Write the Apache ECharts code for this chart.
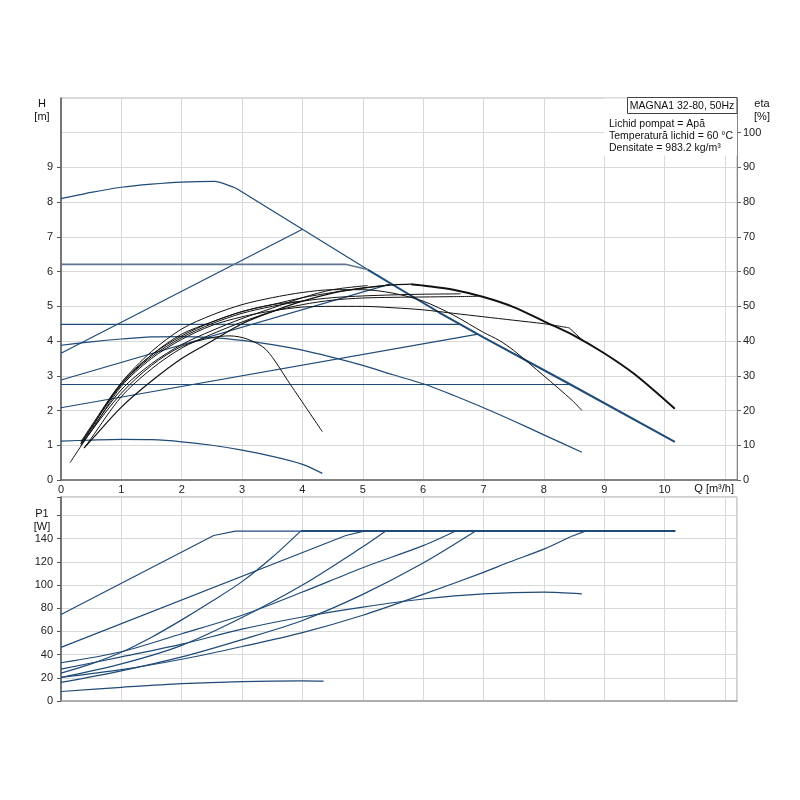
<!DOCTYPE html>
<html>
<head>
<meta charset="utf-8">
<script src="https://cdn.jsdelivr.net/npm/echarts@6/dist/echarts.min.js"></script>
<style>
    html, body { margin: 0; background: #fff; }
    #chart { width: 800px; height: 800px; }
</style>
</head>
<body>
<div id="chart"></div>
<script>
// ---- head curves, Q [m3/h] / H [m] ----
var qMax = [0, 0.5, 1, 1.5, 2, 2.55, 2.9, 4, 5.08, 6.26, 7, 8.44, 10.17];
var hMax = [8.1, 8.28, 8.43, 8.52, 8.58, 8.6, 8.4, 7.22, 6.06, 4.83, 4.11, 2.75, 1.1];
var qPp3 = [0, 4], hPp3 = [3.65, 7.22];
var qCp3 = [0, 4.71, 5.08], hCp3 = [6.21, 6.21, 6.06];
var qCp2 = [0, 6.62], hCp2 = [4.48, 4.48];
var qPp2 = [0, 5.45], hPp2 = [2.88, 5.64];
var qPp1 = [0, 6.91], hPp1 = [2.08, 4.2];
var qCp1 = [0, 8.44], hCp1 = [2.75, 2.75];
var qSpd = [0, 0.5, 1, 1.5, 2, 2.5, 3, 3.5, 4, 4.5, 5, 5.5, 6, 6.5, 7, 7.5, 8, 8.63];
var hSpd = [3.88, 3.98, 4.06, 4.12, 4.13, 4.1, 4.02, 3.9, 3.74, 3.53, 3.3, 3.03, 2.77, 2.44, 2.08, 1.7, 1.3, 0.8];
var qMin = [0, 0.5, 1, 1.5, 2, 2.5, 3, 3.5, 4, 4.33];
var hMin = [1.12, 1.15, 1.17, 1.16, 1.1, 1.0, 0.86, 0.68, 0.45, 0.19];

// ---- efficiency curves, eta [%] ----
var qEtaMax = [0.38, 0.5, 1, 1.5, 2, 2.5, 3, 3.5, 4, 4.5, 5, 5.5, 5.8, 6, 6.5, 7, 7.5, 8, 8.5, 9, 9.5, 10.17];
var etaMax = [9.2, 11.5, 21, 28.5, 35, 40, 45, 48.5, 51.5, 53.8, 55.3, 56.2, 56.4, 56, 54.8, 52.7, 49.8, 45.7, 41.6, 36.5, 30.5, 20.5];
var qEtaPp3 = [0.33, 0.5, 1, 1.5, 2, 2.5, 3, 3.5, 4];
var etaPp3 = [11, 15.5, 28, 36, 41.5, 45.5, 48.5, 50.5, 51.5];
var qEtaCp3 = [0.33, 0.5, 1, 1.5, 2, 2.5, 3, 3.5, 4, 4.5, 5.08];
var etaCp3 = [10, 14.5, 26, 33.5, 39, 43, 46.5, 49.5, 52.5, 54.8, 56];
var qEtaCp2 = [0.33, 0.5, 1, 1.5, 2, 2.5, 3, 3.5, 4, 4.5, 5, 5.5, 6, 6.62];
var etaCp2 = [10.5, 15, 27.5, 35.5, 41, 45, 48, 50, 51.5, 52.5, 53, 53.3, 53.5, 53.6];
var qEtaPp2 = [0.33, 0.5, 1, 1.5, 2, 2.5, 3, 3.5, 4, 4.5, 5, 5.45];
var etaPp2 = [10.5, 15, 27.5, 36, 42, 45.5, 48.5, 50.5, 52.5, 54, 55.2, 56.2];
var qEtaPp1 = [0.4, 0.5, 1, 1.5, 2, 2.5, 3, 3.5, 4, 4.5, 5, 5.5, 6, 6.5, 6.91];
var etaPp1 = [9.5, 12, 24, 32, 38, 42, 45.5, 48.5, 50.5, 51.8, 52.4, 52.6, 52.7, 52.8, 52.9];
var qEtaCp1 = [0.33, 0.5, 1, 1.5, 2, 2.5, 3, 3.5, 4, 4.5, 5, 5.5, 6, 6.5, 7, 7.5, 8, 8.42, 8.65];
var etaCp1 = [10, 14, 27, 35, 40.5, 44.5, 47, 48.7, 49.8, 50, 50, 49.6, 49, 48, 47, 46, 45, 43.8, 40.1];
var qEtaSpd = [0.33, 0.5, 1, 1.5, 2, 2.5, 3, 3.5, 4, 4.5, 5, 5.5, 6, 6.5, 7, 7.26, 7.5, 8, 8.47, 8.63];
var etaSpd = [10.5, 15, 28, 37, 43.5, 47.5, 50.5, 52.5, 54, 54.8, 54.8, 53.8, 51.5, 47.5, 42.5, 40.2, 37.3, 30, 22.9, 20];
var qEtaMin = [0.15, 0.5, 1, 1.5, 2, 2.5, 2.8, 3.1, 3.4, 3.8, 4.33];
var etaMin = [5, 14, 25, 33, 38.5, 41, 41.5, 40.5, 37.5, 27.5, 13.9];

// ---- power curves, P1 [W] ----
var qPMax = [0, 2.53, 2.89, 3.97, 10.18], pMax = [74.6, 142.8, 146.6, 146.6, 146.6];
var qPPp3 = [0, 0.5, 1, 1.5, 2, 2.5, 3, 3.5, 3.97], pPp3 = [24, 32, 42, 55, 70, 86, 103, 124, 146.6];
var qPCp3 = [0, 4.72, 5.02], pCp3 = [46.3, 142.8, 146.6];
var qPCp2 = [0, 1, 2, 3, 4, 5, 6, 6.54], pCp2 = [33, 42.5, 58, 74, 94, 115, 134, 146.6];
var qPPp2 = [0, 1, 2, 3, 4, 5, 5.38], pPp2 = [20.3, 32, 48, 72, 100, 133, 146.6];
var qPPp1 = [0, 1, 2, 3, 4, 5, 6, 6.87], pPp1 = [16, 26, 38, 53, 69.5, 92, 119, 146.6];
var qPCp1 = [0, 1, 2, 3, 4, 5, 6, 7, 7.42, 8, 8.44, 8.69];
var pCp1 = [20.3, 27, 36, 47, 59, 74, 92, 111, 119.7, 131, 141.7, 146.6];
var qPSpd = [0, 1, 2, 3, 4, 5, 6, 7, 8, 8.63], pSpd = [27.5, 38, 49, 62, 72.5, 81, 88, 92.5, 94, 92.5];
var qPMin = [0, 1, 2, 3, 4, 4.35], pMin = [8.2, 11.8, 15, 16.8, 17.4, 17.2];

// tick labels
var qTicks = [0, 1, 2, 3, 4, 5, 6, 7, 8, 9, 10];
var hTicks = [0, 1, 2, 3, 4, 5, 6, 7, 8, 9];
var etaTicks = [0, 10, 20, 30, 40, 50, 60, 70, 80, 90, 100];
var pTicks = [0, 20, 40, 60, 80, 100, 120, 140];

var infoLines = ['Lichid pompat = Apă', 'Temperatură lichid = 60 °C', 'Densitate = 983.2 kg/m³'];

var blue = '#1f4b78';
var black = '#111';
var font = '"Liberation Sans", Arial, sans-serif';

function pts(q, v, lo, hi) {
    var out = [];
    for (var i = 0; i < q.length; i++) {
        if ((lo === undefined || q[i] >= lo) && (hi === undefined || q[i] <= hi)) {
            out.push([q[i], v[i]]);
        }
    }
    return out;
}

function line(data, xi, yi, color, w, smooth) {
    return {
        type: 'line', xAxisIndex: xi, yAxisIndex: yi, data: data,
        symbol: 'none', showSymbol: false, silent: true,
        smooth: smooth || false,
        lineStyle: { color: color, width: w }
    };
}

var series = [
    // head
    line(pts(qMax, hMax, 0, 2.9), 0, 0, blue, 1.2, 0.2),
    line(pts(qMax, hMax, 2.9, 5.08), 0, 0, blue, 1.2),
    line(pts(qMax, hMax, 5.08), 0, 0, blue, 2),
    line(pts(qPp3, hPp3), 0, 0, blue, 1.2),
    line(pts(qCp3, hCp3), 0, 0, '#5f7590', 1.6),
    line(pts(qCp2, hCp2), 0, 0, blue, 1.2),
    line(pts(qPp2, hPp2), 0, 0, blue, 1.2),
    line(pts(qPp1, hPp1), 0, 0, blue, 1.2),
    line(pts(qCp1, hCp1), 0, 0, blue, 1.2),
    line(pts(qSpd, hSpd), 0, 0, blue, 1.2, 0.3),
    line(pts(qMin, hMin), 0, 0, blue, 1.2, 0.3),
    // efficiency
    line(pts(qEtaMax, etaMax, 0, 5.8), 0, 1, black, 1.2, 0.3),
    line(pts(qEtaMax, etaMax, 5.8), 0, 1, black, 2, 0.3),
    line(pts(qEtaPp3, etaPp3), 0, 1, black, 1, 0.3),
    line(pts(qEtaCp3, etaCp3), 0, 1, black, 1, 0.3),
    line(pts(qEtaCp2, etaCp2), 0, 1, black, 1, 0.3),
    line(pts(qEtaPp2, etaPp2), 0, 1, black, 1, 0.3),
    line(pts(qEtaPp1, etaPp1), 0, 1, black, 1, 0.3),
    line(pts(qEtaCp1, etaCp1, 0, 8.42), 0, 1, black, 1, 0.3),
    line(pts(qEtaCp1, etaCp1, 8.42), 0, 1, black, 1),
    line(pts(qEtaSpd, etaSpd), 0, 1, black, 1, 0.3),
    line(pts(qEtaMin, etaMin), 0, 1, black, 1, 0.3),
    // power
    line(pts(qPMax, pMax, 0, 3.97), 1, 2, blue, 1.2),
    line(pts(qPMax, pMax, 3.97), 1, 2, blue, 2),
    line(pts(qPPp3, pPp3), 1, 2, blue, 1.2, 0.3),
    line(pts(qPCp3, pCp3), 1, 2, blue, 1.2),
    line(pts(qPCp2, pCp2), 1, 2, blue, 1.2, 0.3),
    line(pts(qPPp2, pPp2), 1, 2, blue, 1.2, 0.3),
    line(pts(qPPp1, pPp1), 1, 2, blue, 1.2, 0.3),
    line(pts(qPCp1, pCp1, 0, 8.44), 1, 2, blue, 1.2, 0.3),
    line(pts(qPCp1, pCp1, 8.44), 1, 2, blue, 1.2),
    line(pts(qPSpd, pSpd), 1, 2, blue, 1.2, 0.3),
    line(pts(qPMin, pMin), 1, 2, blue, 1.2, 0.3)
];

var gridLine = { show: true, lineStyle: { color: '#d9d9d9', width: 1 } };
var labelStyle = { color: '#222', fontSize: 11, fontFamily: font };

var graphics = [
    { type: 'rect', z: 100, shape: { x: 604, y: 98.5, width: 133, height: 57 }, style: { fill: '#fff' } },
    { type: 'rect', z: 101, shape: { x: 627.5, y: 97.5, width: 109.5, height: 16 },
      style: { fill: '#fff', stroke: '#444', lineWidth: 1 } },
    { type: 'text', z: 102, style: { x: 682, y: 106, text: 'MAGNA1 32-80, 50Hz', align: 'center', verticalAlign: 'middle',
      fill: '#111', font: '10.5px ' + font } },
    { type: 'text', z: 102, style: { x: 42, y: 104, text: 'H', align: 'center', verticalAlign: 'middle', fill: '#111', font: '11px ' + font } },
    { type: 'text', z: 102, style: { x: 42, y: 117, text: '[m]', align: 'center', verticalAlign: 'middle', fill: '#111', font: '11px ' + font } },
    { type: 'text', z: 102, style: { x: 762, y: 104, text: 'eta', align: 'center', verticalAlign: 'middle', fill: '#111', font: '11px ' + font } },
    { type: 'text', z: 102, style: { x: 762, y: 117, text: '[%]', align: 'center', verticalAlign: 'middle', fill: '#111', font: '11px ' + font } },
    { type: 'text', z: 102, style: { x: 42, y: 514, text: 'P1', align: 'center', verticalAlign: 'middle', fill: '#111', font: '11px ' + font } },
    { type: 'text', z: 102, style: { x: 42, y: 527, text: '[W]', align: 'center', verticalAlign: 'middle', fill: '#111', font: '11px ' + font } },
    { type: 'text', z: 102, style: { x: 734, y: 489, text: 'Q [m³/h]', align: 'right', verticalAlign: 'middle', fill: '#111', font: '11px ' + font } }
];
infoLines.forEach(function (t, i) {
    graphics.push({ type: 'text', z: 102, style: { x: 609, y: 124 + i * 12, text: t, align: 'left', verticalAlign: 'middle',
        fill: '#111', font: '10.5px ' + font } });
});

var chart = echarts.init(document.getElementById('chart'), null, { renderer: 'canvas' });
chart.setOption({
    animation: false,
    backgroundColor: '#fff',
    grid: [
        { left: 61, right: 63, top: 98, height: 382, show: true, borderColor: '#b5b5b5', borderWidth: 1 },
        { left: 61, right: 63, top: 497, height: 204, show: true, borderColor: '#a0a0a0', borderWidth: 1 }
    ],
    xAxis: [
        { type: 'value', gridIndex: 0, min: 0, max: 11.2, interval: 1,
          axisLine: { show: true, onZero: false, lineStyle: { color: '#666', width: 1.5 } },
          axisTick: { show: false },
          axisLabel: Object.assign({ margin: 4, customValues: qTicks }, labelStyle),
          splitLine: gridLine },
        { type: 'value', gridIndex: 1, min: 0, max: 11.2, interval: 1,
          axisLine: { show: true, onZero: false, lineStyle: { color: '#a0a0a0', width: 1.5 } },
          axisTick: { show: false }, axisLabel: { show: false },
          splitLine: gridLine }
    ],
    yAxis: [
        { type: 'value', gridIndex: 0, min: 0, max: 11, interval: 1, position: 'left',
          axisLine: { show: true, onZero: false, lineStyle: { color: '#555', width: 1.5 } },
          axisTick: { show: true, length: 4, customValues: hTicks, lineStyle: { color: '#555' } },
          axisLabel: Object.assign({ margin: 8, customValues: hTicks }, labelStyle),
          splitLine: { show: false } },
        { type: 'value', gridIndex: 0, min: 0, max: 110, interval: 10, position: 'right',
          axisLine: { show: true, onZero: false, lineStyle: { color: '#888', width: 1 } },
          axisTick: { show: true, length: 4, customValues: etaTicks, lineStyle: { color: '#666' } },
          axisLabel: Object.assign({ margin: 6, customValues: etaTicks }, labelStyle),
          splitLine: { show: false } },
        { type: 'value', gridIndex: 1, min: 0, max: 176, interval: 20, position: 'left',
          axisLine: { show: true, onZero: false, lineStyle: { color: '#555', width: 1.5 } },
          axisTick: { show: true, length: 4, lineStyle: { color: '#555' } },
          axisLabel: Object.assign({ margin: 8, customValues: pTicks }, labelStyle),
          splitLine: gridLine },
        // gridlines only, for the head panel
        { type: 'value', gridIndex: 0, min: 0, max: 11, interval: 1, position: 'left',
          axisLine: { show: false }, axisTick: { show: false }, axisLabel: { show: false },
          splitLine: gridLine }
    ],
    graphic: graphics,
    series: series
});
</script>
</body>
</html>
